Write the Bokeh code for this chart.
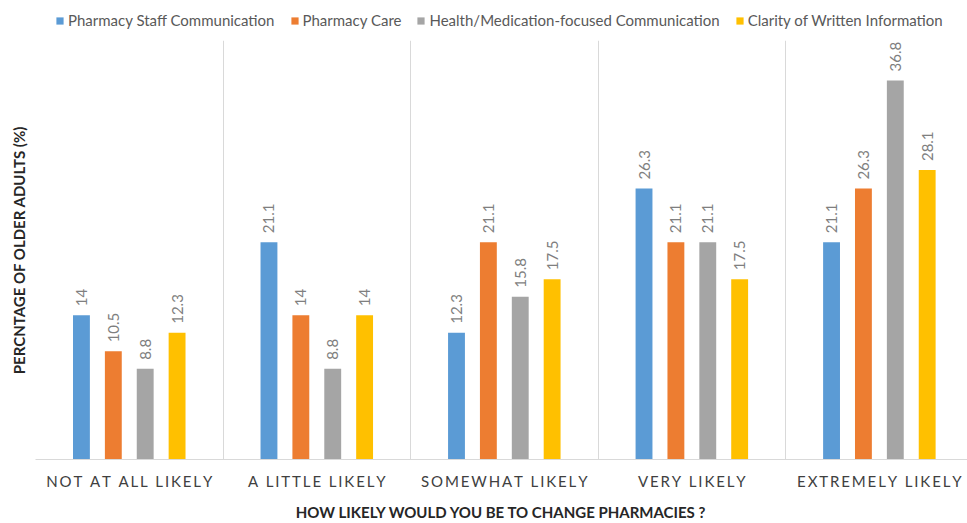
from bokeh.plotting import figure
from bokeh.layouts import column
from bokeh.models import ColumnDataSource, Range1d, FixedTicker, Legend, LegendItem
from bokeh.core.properties import value
from bokeh.embed import file_html
from bokeh.resources import INLINE

categories = ["NOT AT ALL LIKELY", "A LITTLE LIKELY", "SOMEWHAT LIKELY", "VERY LIKELY", "EXTREMELY LIKELY"]
series_names = ["Pharmacy Staff Communication", "Pharmacy Care",
                "Health/Medication-focused Communication", "Clarity of Written Information"]
staff = [14, 21.1, 12.3, 26.3, 21.1]
care = [10.5, 14, 21.1, 21.1, 26.3]
health = [8.8, 8.8, 15.8, 21.1, 36.8]
clarity = [12.3, 14, 17.5, 17.5, 28.1]
colors = ["#5b9bd5", "#ed7d31", "#a5a5a5", "#ffc000"]
offsets = [-0.255, -0.085, 0.085, 0.255]

FONT = "Lato"

def spaced(s):
    return "\u2009".join(list(s))

# ---- legend strip ----
lf = figure(width=967, height=40, output_backend="svg", toolbar_location=None,
            x_range=Range1d(0, 1), y_range=Range1d(0, 1))
lf.min_border_left = lf.min_border_right = lf.min_border_top = lf.min_border_bottom = 0
lf.axis.visible = False
lf.grid.visible = False
lf.outline_line_color = None

# ---- main chart ----
p = figure(width=967, height=483, output_backend="svg", toolbar_location=None,
           x_range=Range1d(0, 4.97), y_range=Range1d(0, 40.68))
p.min_border_left = 35
p.min_border_right = 0
p.min_border_top = 0
p.min_border_bottom = 64
p.outline_line_color = None
p.background_fill_color = "white"

items = []
series = [staff, care, health, clarity]
for i, (vals, name) in enumerate(zip(series, series_names)):
    xs = [j + 0.5 + offsets[i] for j in range(len(categories))]
    src = ColumnDataSource(dict(x=xs, top=vals, lab=[("%g" % v) for v in vals]))
    p.vbar(x="x", top="top", width=0.09, source=src, fill_color=colors[i], line_color=None)
    p.text(x="x", y="top", text="lab", source=src, angle=1.5708, text_align="left",
           text_baseline="middle", y_offset=-9, text_font=value(FONT), text_font_size="15px",
           text_color="#7f7f7f")
    proxy = lf.vbar(x="x", top="top", width=0.09, source=src, fill_color=colors[i],
                    line_color=None, visible=False)
    items.append(LegendItem(label=name, renderers=[proxy]))

legend = Legend(items=items, orientation="horizontal", location=(20, 11),
                glyph_width=9, glyph_height=9, label_standoff=4, spacing=15,
                label_text_font=FONT, label_text_font_size="15px", label_text_color="#595959",
                border_line_color=None, background_fill_alpha=0, padding=0, margin=0,
                click_policy="none")
lf.add_layout(legend, "center")

p.xaxis.ticker = FixedTicker(ticks=[j + 0.5 for j in range(len(categories))])
p.xaxis.major_label_overrides = {j + 0.5: spaced(c) for j, c in enumerate(categories)}
p.xaxis.major_label_text_font = FONT
p.xaxis.major_label_text_font_size = "15px"
p.xaxis.major_label_text_color = "#404040"
p.xaxis.major_tick_line_color = None
p.xaxis.minor_tick_line_color = None
p.xaxis.major_tick_out = 0
p.xaxis.axis_line_color = "#d9d9d9"
p.xaxis.major_label_standoff = 12
p.xaxis.axis_label = "HOW LIKELY WOULD YOU BE TO CHANGE PHARMACIES ?"
p.xaxis.axis_label_text_font = FONT
p.xaxis.axis_label_text_font_style = "bold"
p.xaxis.axis_label_text_font_size = "15px"
p.xaxis.axis_label_text_color = "#262626"
p.xaxis.axis_label_standoff = 10

p.yaxis.ticker = FixedTicker(ticks=[0])
p.yaxis.major_label_overrides = {0: " "}
p.yaxis.major_label_text_font_size = "1px"
p.yaxis.major_label_standoff = 0
p.yaxis.major_tick_out = 0
p.yaxis.axis_line_color = None
p.yaxis.major_tick_line_color = None
p.yaxis.minor_tick_line_color = None
p.yaxis.axis_label = "PERCNTAGE OF OLDER ADULTS (%)"
p.yaxis.axis_label_text_font = FONT
p.yaxis.axis_label_text_font_style = "bold"
p.yaxis.axis_label_text_font_size = "15px"
p.yaxis.axis_label_text_color = "#262626"
p.yaxis.axis_label_standoff = 4

p.xgrid.ticker = FixedTicker(ticks=[0, 1, 2, 3, 4, 5])
p.xgrid.grid_line_color = "#d9d9d9"
p.ygrid.grid_line_color = None

layout = column(lf, p)
open("out.html", "w").write(file_html(layout, INLINE))
